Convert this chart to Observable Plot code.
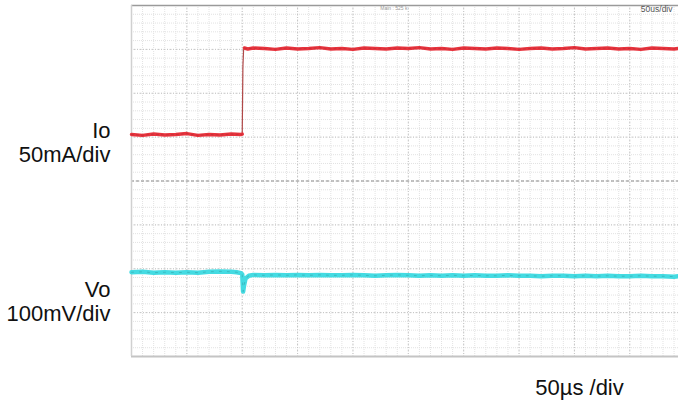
<!DOCTYPE html>
<html>
<head>
<meta charset="utf-8">
<script src="https://cdn.jsdelivr.net/npm/d3@7"></script>
<script src="https://cdn.jsdelivr.net/npm/@observablehq/plot@0.6"></script>
<style>
  html, body { margin: 0; padding: 0; background: #fff; }
  #chart { width: 678px; height: 406px; overflow: hidden; }
</style>
</head>
<body>
<div id="chart"></div>
<script>
// Time axis in µs (50 µs / div), vertical axis in screen divisions (0..8)
const ioTime = [0,10,20,30,40,50,60,70,80,90,99,100,100.6,101.2,102,105,110,120,130,140,150,160,170,180,190,200,210,220,230,240,250,260,270,280,290,300,310,320,330,340,350,360,370,380,390,400,410,420,430,440,450,460,470,480,490,494];
const ioDiv  = [5.06,5.04,5.07,5.05,5.06,5.08,5.04,5.06,5.05,5.07,5.06,5.07,6.60,6.98,7.03,7.01,7.03,7.02,7.00,7.03,7.01,7.02,7.04,7.01,7.02,7.00,7.03,7.02,7.01,7.03,7.02,7.04,7.01,7.02,7.00,7.03,7.02,7.01,7.03,7.02,7.00,7.02,7.03,7.01,7.02,7.04,7.01,7.02,7.03,7.01,7.02,7.00,7.03,7.02,7.01,7.02];

const voTime = [0,10,20,30,40,50,60,70,80,90,95,99,100,100.8,101.5,103,106,110,120,130,140,150,160,170,180,190,200,210,220,230,240,250,260,270,280,290,300,310,320,330,340,350,360,370,380,390,400,410,420,430,440,450,460,470,480,490,494];
const voDiv  = [1.92,1.93,1.91,1.92,1.91,1.92,1.91,1.93,1.94,1.93,1.92,1.90,1.87,1.48,1.60,1.78,1.84,1.86,1.85,1.86,1.85,1.86,1.85,1.86,1.85,1.85,1.86,1.85,1.84,1.85,1.86,1.85,1.84,1.85,1.84,1.85,1.84,1.85,1.84,1.84,1.85,1.84,1.84,1.83,1.84,1.84,1.83,1.84,1.83,1.84,1.83,1.83,1.84,1.83,1.83,1.82,1.83];

const sideLabels = ["Io", "50mA/div", "Vo", "100mV/div"];
const sideLabelY = [5.15, 4.60, 1.51, 0.96];
const timeLabel = "50µs /div";
const topLabels = ["Main : 525 k", "50us/div"];

const io = ioTime.map((t, i) => ({t, v: ioDiv[i]}));
const vo = voTime.map((t, i) => ({t, v: voDiv[i]}));

const minorX = d3.range(0, 501, 10);
const minorY = d3.range(0, 8.01, 0.2);
const majorX = d3.range(0, 501, 50);
const majorY = d3.range(0, 9, 1);

const plot = Plot.plot({
  width: 678,
  height: 406,
  marginLeft: 131,
  marginRight: 0,
  marginTop: 5,
  marginBottom: 50,
  x: {domain: [0, 494], axis: null},
  y: {domain: [0, 8], axis: null},
  style: {fontFamily: "'Liberation Sans', Arial, sans-serif", background: "#fff", color: "#000"},
  marks: [
    Plot.ruleX(minorX, {stroke: "#e2e2e2", strokeWidth: 1, strokeDasharray: "1,1"}),
    Plot.ruleY(minorY, {stroke: "#e2e2e2", strokeWidth: 1, strokeDasharray: "1,1"}),
    Plot.ruleX(majorX, {stroke: "#c4c4c4", strokeWidth: 1, strokeDasharray: "1,2"}),
    Plot.ruleY(majorY.filter(d => d !== 4 && d !== 0 && d !== 8), {stroke: "#c4c4c4", strokeWidth: 1, strokeDasharray: "1,2"}),
    Plot.ruleY([4], {stroke: "#8a8a8a", strokeWidth: 1.2, strokeDasharray: "3,2"}),
    Plot.ruleY([8], {stroke: "#9a9a9a", strokeWidth: 1.5}),
    Plot.ruleY([0], {stroke: "#c4c4c4", strokeWidth: 2}),
    Plot.ruleX([0], {stroke: "#d0d0d0", strokeWidth: 1.5}),
    // Io trace: thin edge plus thick plateaus
    Plot.line(io, {x: "t", y: "v", stroke: "#b04848", strokeWidth: 1.2}),
    Plot.line(io.filter(d => d.t <= 100 || d.t >= 102), {x: "t", y: "v", z: d => d.t <= 100 ? "low" : "high", stroke: "#e8333d", strokeWidth: 3.5}),
    Plot.line(io.filter(d => d.t <= 100 || d.t >= 102), {x: "t", y: "v", z: d => d.t <= 100 ? "low" : "high", stroke: "#9a2a30", strokeWidth: 0.7, strokeOpacity: 0.6, strokeDasharray: "2,3"}),
    // Vo trace
    Plot.line(vo, {x: "t", y: "v", stroke: "#44dbe2", strokeWidth: 4.5}),
    Plot.line(vo, {x: "t", y: "v", stroke: "#2b7c82", strokeWidth: 0.7, strokeOpacity: 0.5, strokeDasharray: "2,6"}),
    // Labels
    Plot.text(sideLabels, {x: 0, y: (d, i) => sideLabelY[i], text: d => d, textAnchor: "end", dx: -21, fontSize: 22, fill: "#111"}),
    Plot.text([timeLabel], {x: 404.6, y: -0.71, text: d => d, textAnchor: "middle", fontSize: 22, fill: "#111"}),
    Plot.text([topLabels[0]], {x: 237, y: 7.93, text: d => d, textAnchor: "middle", fontSize: 5, fill: "#999"}),
    Plot.text([topLabels[1]], {x: 460, y: 7.92, text: d => d, textAnchor: "start", fontSize: 8.5, fill: "#555"})
  ]
});
document.getElementById("chart").appendChild(plot);
</script>
</body>
</html>
